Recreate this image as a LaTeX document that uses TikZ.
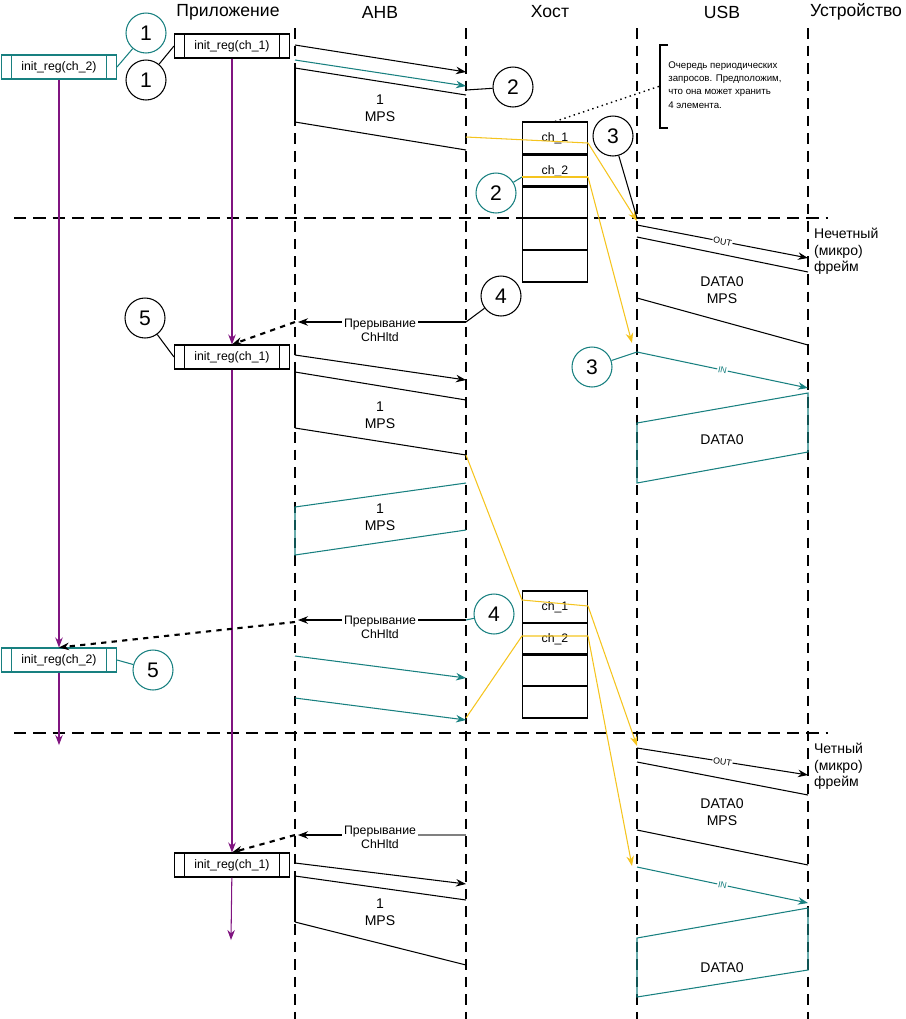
\documentclass[tikz,border=0pt]{standalone}
\usepackage{fontspec}
\setmainfont{Liberation Sans}
\usetikzlibrary{arrows.meta}
\definecolor{teal1}{RGB}{24,128,128}
\definecolor{gold1}{RGB}{245,196,30}
\definecolor{purp1}{RGB}{128,20,128}
\tikzset{
    normal/.style={draw, semithick},
    lane/.style={draw, thick, dash pattern=on 6pt off 4pt},
    sep/.style={draw, very thick, dash pattern=on 7pt off 4pt},
    msg/.style={style=normal, -{Stealth[length=2mm]}},
    pkt/.style={style=normal},
    tmsg/.style={style=msg, teal1},
    tpkt/.style={style=normal, teal1},
    ylw/.style={draw, gold1, semithick},
    ylwa/.style={style=ylw, -{Stealth[length=2mm]}},
    num/.style={style=normal, circle, minimum size=0.8cm, inner sep=0, font=\large},
    tnum/.style={style=num, teal1, text=black},
    reg/.style={style=normal, minimum width=2.3cm, minimum height=0.48cm, inner sep=0, font=\scriptsize,
        path picture={\draw ([xshift=0.2cm]path picture bounding box.north west) -- ([xshift=0.2cm]path picture bounding box.south west);
                      \draw ([xshift=-0.2cm]path picture bounding box.north east) -- ([xshift=-0.2cm]path picture bounding box.south east);}},
    cell/.style={style=normal, minimum width=1.3cm, inner sep=0, font=\scriptsize},
    lbl/.style={font=\footnotesize, align=center},
    irq/.style={font=\scriptsize, align=center, fill=white, inner sep=1pt},
    life/.style={draw, purp1, semithick, -{Stealth[length=2mm]}},
    lead/.style={draw, semithick}
}
\begin{document}
\begin{tikzpicture}[x=0.02cm, y=-0.02cm]
  \useasboundingbox (0,0) rectangle (906,1019);
  % headers
  \node[font=\normalsize] (happ) at (228,12) {Приложение};
  \node[font=\normalsize] (hahb) at (380,12) {AHB};
  \node[font=\normalsize] (hhost) at (550,12) {Хост};
  \node[font=\normalsize] (husb) at (722,12) {USB};
  \node[font=\normalsize] (hdev) at (856,12) {Устройство};
  % lanes and frame boundaries
  \foreach \x in {295,466,637,808}
      \draw[lane] (\x,28) -- (\x,1019);
  \draw[sep] (14,218) -- (828,218);
  \draw[sep] (14,733) -- (828,733);
  \node[lbl, anchor=north west, align=left, inner sep=1pt] (odd) at (812,226) {Нечетный\\(микро)\\фрейм};
  \node[lbl, anchor=north west, align=left, inner sep=1pt] (even) at (812,741) {Четный\\(микро)\\фрейм};

  % application registers
  \node[reg] (r1a) at (232,46) {init\_reg(ch\_1)};
  \node[reg, teal1, text=black] (r2a) at (59,67) {init\_reg(ch\_2)};
  \node[reg] (r1b) at (232,357) {init\_reg(ch\_1)};
  \node[reg, teal1, text=black] (r2b) at (59,660) {init\_reg(ch\_2)};
  \node[reg] (r1c) at (232,865) {init\_reg(ch\_1)};
  \draw[life] (r2a) -- (r2b);
  \draw[life] (r2b) -- (59,745);
  \draw[life] (r1a) -- (r1b);
  \draw[life] (r1b) -- (r1c);
  \draw[life] (r1c) -- (231,940);

  % queues
  \foreach \n/\y in {1/138,2/171,3/202,4/234,5/266}
      \node[cell, minimum height=0.64cm] (qa\n) at (555,\y) {};
  \node[font=\scriptsize] at (qa1) {ch\_1};
  \node[font=\scriptsize] at (qa2) {ch\_2};
  \foreach \n/\y in {1/607,2/639,3/670,4/702}
      \node[cell, minimum height=0.64cm] (qb\n) at (555,\y) {};
  \node[font=\scriptsize] at (qb1) {ch\_1};
  \node[font=\scriptsize] at (qb2) {ch\_2};
  \node[font=\fontsize{5.5}{7.5}\selectfont, anchor=west, align=left, inner sep=0] (note) at (668,85)
      {Очередь периодических\\запросов. Предположим,\\что она может хранить\\4 элемента.};
  \draw[semithick] (668,45) -- (660,45) -- (660,128) -- (668,128);
  \draw[thick, dotted] (qa1.north) -- (660,86);

  % AHB, first round
  \draw[msg] (295,45) -- (466,72);
  \draw[tmsg] (295,60) -- (466,86);
  \draw[pkt] (295,68) -- (466,95);
  \draw[pkt] (295,122) -- (466,150);
  \draw[pkt] (295,68) -- (295,122);
  \node[lbl] (m1) at (380,108) {1\\MPS};
  \draw[ylw] (466,137) -- (qa1.east |- 0,143);
  \draw[ylwa] (qa1.east |- 0,143) -- (637,221);
  \draw[ylw] (qa2.west |- 0,177) -- (qa2.east |- 0,177);
  \draw[ylwa] (qa2.east |- 0,177) -- (632,343);

  % USB, odd frame
  \draw[msg] (637,225) -- node[fill=white, inner sep=0.5pt, font=\tiny, sloped] {OUT} (808,258);
  \draw[pkt] (637,237) -- (808,272);
  \draw[pkt] (637,298) -- (808,345);
  \node[lbl] (d1) at (722,290) {DATA0\\MPS};
  \draw[tmsg] (637,352) -- node[fill=white, inner sep=0.5pt, font=\tiny, sloped] {IN} (808,388);
  \draw[tpkt] (808,393) -- (637,423) -- (637,483) -- (808,452) -- cycle;
  \node[lbl] (d2) at (722,440) {DATA0};

  % first interrupt
  \node[irq] (i1) at (380,330) {Прерывание\\ChHltd};
  \draw[semithick] (466,322) -- (i1.east |- 0,322);
  \draw[msg] (i1.west |- 0,322) -- (298,322);
  \draw[very thick, dashed, -{Stealth[length=2mm]}] (295,322) -- (r1b.north);

  % AHB, second round
  \draw[msg] (295,355) -- (466,380);
  \draw[pkt] (295,372) -- (466,400);
  \draw[pkt] (295,428) -- (466,455);
  \draw[pkt] (295,372) -- (295,428);
  \node[lbl] (m2) at (380,415) {1\\MPS};
  \draw[tpkt] (466,483) -- (295,507) -- (295,555) -- (466,530);
  \node[lbl] (m3) at (380,517) {1\\MPS};
  \draw[ylw] (466,455) -- (qb1.west |- 0,600) -- (qb1.east |- 0,606);
  \draw[ylwa] (qb1.east |- 0,606) -- (637,746);
  \draw[ylw] (466,718) -- (qb2.west |- 0,636) -- (qb2.east |- 0,636);
  \draw[ylwa] (qb2.east |- 0,636) -- (632,866);

  % second interrupt
  \node[irq] (i2) at (380,627) {Прерывание\\ChHltd};
  \draw[semithick] (466,620) -- (i2.east |- 0,620);
  \draw[msg] (i2.west |- 0,620) -- (298,620);
  \draw[very thick, dashed, -{Stealth[length=2mm]}] (295,622) -- (r2b.north);
  \draw[tmsg] (295,656) -- (466,678);
  \draw[tmsg] (295,698) -- (466,720);

  % USB, even frame
  \draw[msg] (637,748) -- node[fill=white, inner sep=0.5pt, font=\tiny, sloped] {OUT} (808,775);
  \draw[pkt] (637,762) -- (808,795);
  \draw[pkt] (637,830) -- (808,865);
  \node[lbl] (d3) at (722,812) {DATA0\\MPS};
  \draw[tmsg] (637,867) -- node[fill=white, inner sep=0.5pt, font=\tiny, sloped] {IN} (808,903);
  \draw[tpkt] (808,908) -- (637,938) -- (637,997) -- (808,970) -- cycle;
  \node[lbl] (d4) at (722,968) {DATA0};

  % third interrupt
  \node[irq] (i3) at (380,837) {Прерывание\\ChHltd};
  \draw[semithick, gray] (466,835) -- (i3.east |- 0,835);
  \draw[msg] (i3.west |- 0,835) -- (298,835);
  \draw[very thick, dashed, -{Stealth[length=2mm]}] (295,835) -- (r1c.north);

  % AHB, third round
  \draw[msg] (295,863) -- (466,884);
  \draw[pkt] (295,876) -- (466,900);
  \draw[pkt] (295,922) -- (466,965);
  \draw[pkt] (295,876) -- (295,922);
  \node[lbl] (m4) at (380,912) {1\\MPS};

  % numbered markers
  \node[tnum] (c1t) at (146,33) {1};
  \node[num] (c1b) at (146,80) {1};
  \node[num] (c2b) at (513,87) {2};
  \node[tnum] (c2t) at (496,193) {2};
  \node[num] (c3b) at (613,136) {3};
  \node[num] (c4b) at (501,296) {4};
  \node[num] (c5b) at (145,318) {5};
  \node[tnum] (c3t) at (592,367) {3};
  \node[tnum] (c4t) at (494,614) {4};
  \node[tnum] (c5t) at (153,670) {5};
  \draw[lead, teal1] (c1t) -- (r2a.east);
  \draw[lead] (c1b) -- (r1a.west);
  \draw[lead] (c2b) -- (466,90);
  \draw[lead, teal1] (c2t) -- (qa2.west |- 0,177);
  \draw[lead] (c3b) -- (637,218);
  \draw[lead] (c4b) -- (466,322);
  \draw[lead] (c5b) -- (r1b.west);
  \draw[lead, teal1] (c3t) -- (637,352);
  \draw[lead, teal1] (c4t) -- (466,620);
  \draw[lead, teal1] (c5t) -- (r2b.east);
\end{tikzpicture}
\end{document}
